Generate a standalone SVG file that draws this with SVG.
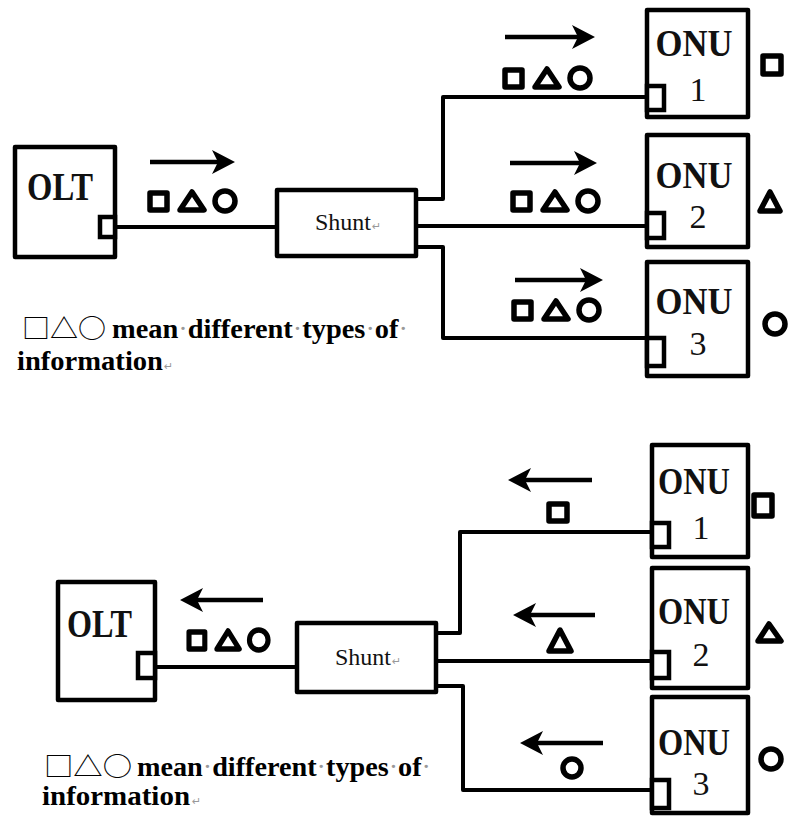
<svg xmlns="http://www.w3.org/2000/svg" xmlns:xlink="http://www.w3.org/1999/xlink" width="794" height="817" viewBox="0 0 794 817">
<style>
  .box{fill:#fff;stroke:#000;stroke-width:4.5;stroke-linejoin:round}
  .port{fill:#fff;stroke:#000;stroke-width:4.5}
  .wire{fill:none;stroke:#000;stroke-width:4;stroke-linejoin:round}
  .arr{fill:none;stroke:#000;stroke-width:4.5}
  .sym{fill:none;stroke:#000;stroke-width:5.5;stroke-linejoin:round}
  .olt{font-family:"Liberation Serif",serif;font-weight:bold;font-size:40px;fill:#111}
  .onu{font-family:"Liberation Serif",serif;font-weight:bold;font-size:38px;fill:#111;text-anchor:middle}
  .num{font-family:"Liberation Serif",serif;font-size:34px;fill:#111;text-anchor:middle}
  .shunt{font-family:"Liberation Serif",serif;font-size:24px;fill:#111}
  .cap{font-family:"Liberation Serif",serif;font-weight:bold;font-size:27px;fill:#000}
  .glyph{font-family:"Noto Sans CJK SC","DejaVu Sans",sans-serif;font-size:26px;fill:#000}
  .mark{fill:#999;font-weight:normal}
  .ret{fill:#999;font-family:"DejaVu Sans",sans-serif;font-size:11px}
</style>
<defs>
  <marker id="head" markerUnits="userSpaceOnUse" markerWidth="24" markerHeight="26" refX="8" refY="12" orient="auto">
    <path d="M0,0 L23,12 L0,24 L6,12 Z" fill="#000"/>
  </marker>
  <g id="trio" class="sym">
    <rect x="0" y="3" width="17" height="17"/>
    <path d="M30,20 L42,2 L54,20 Z"/>
    <circle cx="75" cy="11" r="10"/>
  </g>
</defs>

<rect width="794" height="817" fill="#fff"/>

<!-- connectors -->
<g id="connectors">
  <path class="wire" d="M115,227 H277"/>
  <path class="wire" d="M416,199 H443 V97 H647"/>
  <path class="wire" d="M416,226 H647"/>
  <path class="wire" d="M416,247 H443 V338 H647"/>
  <path class="wire" d="M155,667 H297"/>
  <path class="wire" d="M436,633 H460 V532 H652"/>
  <path class="wire" d="M436,661 H652"/>
  <path class="wire" d="M436,686 H463 V790 H652"/>
  <!-- direction arrows -->
  <line class="arr" x1="150" y1="162" x2="220" y2="162" marker-end="url(#head)"/>
  <line class="arr" x1="505" y1="37" x2="580" y2="37" marker-end="url(#head)"/>
  <line class="arr" x1="510" y1="163" x2="582" y2="163" marker-end="url(#head)"/>
  <line class="arr" x1="515" y1="280" x2="588" y2="280" marker-end="url(#head)"/>
  <line class="arr" x1="263" y1="600" x2="195" y2="600" marker-end="url(#head)"/>
  <line class="arr" x1="592" y1="480" x2="523" y2="480" marker-end="url(#head)"/>
  <line class="arr" x1="595" y1="615" x2="528" y2="615" marker-end="url(#head)"/>
  <line class="arr" x1="603" y1="743" x2="535" y2="743" marker-end="url(#head)"/>
</g>

<!-- information symbols -->
<g id="symbols">
  <use xlink:href="#trio" transform="translate(150,190)"/>
  <use xlink:href="#trio" transform="translate(505,67)"/>
  <use xlink:href="#trio" transform="translate(513,190)"/>
  <use xlink:href="#trio" transform="translate(514,299)"/>
  <use xlink:href="#trio" transform="translate(189,629) scale(0.93,1)"/>
  <rect class="sym" x="763" y="56" width="18" height="18"/>
  <path class="sym" d="M760,211 L770,192 L780,211 Z"/>
  <circle class="sym" cx="775" cy="324" r="10"/>
  <rect class="sym" x="549" y="504" width="18" height="17"/>
  <path class="sym" d="M549,651 L560,630 L571,651 Z"/>
  <circle class="sym" cx="572" cy="768" r="9"/>
  <rect class="sym" x="754" y="495" width="18" height="21"/>
  <path class="sym" d="M758,641 L769,624 L781,641 Z"/>
  <circle class="sym" cx="771" cy="759" r="10"/>
</g>

<!-- top: downstream -->
<g id="olt-top">
  <rect class="box" x="15" y="147" width="100" height="110"/>
  <rect class="port" x="100" y="217" width="15" height="20"/>
  <text class="olt" x="27" y="200" textLength="66" lengthAdjust="spacingAndGlyphs">OLT</text>
</g>
<g id="shunt-top">
  <rect class="box" x="277" y="190" width="139" height="66"/>
  <text class="shunt" x="315" y="230">Shunt<tspan class="ret" dx="1">↵</tspan></text>
</g>
<g id="onu1-top">
  <rect class="box" x="647" y="10" width="101" height="107"/>
  <rect class="port" x="647" y="86" width="17" height="24"/>
  <text class="onu" x="694" y="56" textLength="77" lengthAdjust="spacingAndGlyphs">ONU</text>
  <text class="num" x="698" y="101">1</text>
</g>
<g id="onu2-top">
  <rect class="box" x="647" y="135" width="101" height="112"/>
  <rect class="port" x="647" y="213" width="17" height="25"/>
  <text class="onu" x="694" y="188" textLength="77" lengthAdjust="spacingAndGlyphs">ONU</text>
  <text class="num" x="698" y="228">2</text>
</g>
<g id="onu3-top">
  <rect class="box" x="647" y="262" width="101" height="114"/>
  <rect class="port" x="647" y="338" width="17" height="28"/>
  <text class="onu" x="694" y="314" textLength="77" lengthAdjust="spacingAndGlyphs">ONU</text>
  <text class="num" x="698" y="355">3</text>
</g>
<g id="caption-top">
  <text class="glyph" x="22" y="338" textLength="84" lengthAdjust="spacingAndGlyphs">□△○</text>
  <text class="cap" x="112" y="338" textLength="296" lengthAdjust="spacingAndGlyphs">mean<tspan class="mark">·</tspan>different<tspan class="mark">·</tspan>types<tspan class="mark">·</tspan>of<tspan class="mark">·</tspan></text>
  <text class="cap" x="17" y="370" textLength="146" lengthAdjust="spacingAndGlyphs">information</text>
  <text class="ret" x="164" y="370">↵</text>
</g>

<!-- bottom: upstream -->
<g id="olt-bottom">
  <rect class="box" x="58" y="582" width="97" height="118"/>
  <rect class="port" x="138" y="653" width="17" height="25"/>
  <text class="olt" x="67" y="637" textLength="65" lengthAdjust="spacingAndGlyphs">OLT</text>
</g>
<g id="shunt-bottom">
  <rect class="box" x="297" y="623" width="139" height="69"/>
  <text class="shunt" x="335" y="665">Shunt<tspan class="ret" dx="1">↵</tspan></text>
</g>
<g id="onu1-bottom">
  <rect class="box" x="652" y="445" width="96" height="112"/>
  <rect class="port" x="652" y="523" width="17" height="24"/>
  <text class="onu" x="694" y="494" textLength="72" lengthAdjust="spacingAndGlyphs">ONU</text>
  <text class="num" x="701" y="539">1</text>
</g>
<g id="onu2-bottom">
  <rect class="box" x="652" y="568" width="96" height="120"/>
  <rect class="port" x="652" y="652" width="17" height="26"/>
  <text class="onu" x="694" y="624" textLength="72" lengthAdjust="spacingAndGlyphs">ONU</text>
  <text class="num" x="701" y="666">2</text>
</g>
<g id="onu3-bottom">
  <rect class="box" x="652" y="697" width="96" height="116"/>
  <rect class="port" x="652" y="780" width="17" height="28"/>
  <text class="onu" x="694" y="755" font-size="36" textLength="72" lengthAdjust="spacingAndGlyphs">ONU</text>
  <text class="num" x="701" y="795" font-size="31">3</text>
</g>
<g id="caption-bottom">
  <text class="glyph" x="44" y="776" textLength="88" lengthAdjust="spacingAndGlyphs">□△○</text>
  <text class="cap" x="137" y="776" textLength="294" lengthAdjust="spacingAndGlyphs">mean<tspan class="mark">·</tspan>different<tspan class="mark">·</tspan>types<tspan class="mark">·</tspan>of<tspan class="mark">·</tspan></text>
  <text class="cap" x="42" y="805" textLength="148" lengthAdjust="spacingAndGlyphs">information</text>
  <text class="ret" x="192" y="805">↵</text>
</g>
</svg>
